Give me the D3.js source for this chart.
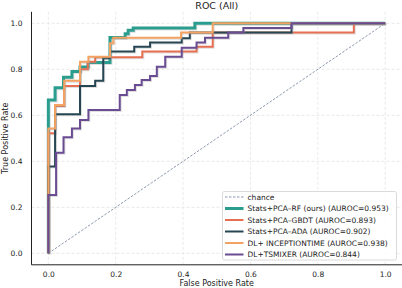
<!DOCTYPE html>
<html>
<head>
<meta charset="utf-8">
<script src="https://cdn.jsdelivr.net/npm/d3@7"></script>
<style>
  html, body { margin: 0; padding: 0; background: #fff; }
  svg { display: block; font-family: "DejaVu Sans", sans-serif; }
</style>
</head>
<body>
<svg id="chart" width="402" height="288"></svg>
<script>
// ROC points (fpr where tpr jumps, tpr after the jump)
var rfFpr   = [0, 0, 0.02, 0.045, 0.07, 0.094, 0.118, 0.183, 0.228, 0.237, 0.252, 0.435, 1.0];
var rfTpr   = [0, 0.667, 0.72, 0.765, 0.79, 0.81, 0.83, 0.938, 0.955, 0.97, 0.98, 1.0, 1.0];

var gbdtFpr = [0, 0, 0.02, 0.047, 0.094, 0.117, 0.139, 0.279, 0.44, 0.488, 0.907, 1.0];
var gbdtTpr = [0, 0.522, 0.64, 0.727, 0.80, 0.833, 0.852, 0.877, 0.898, 0.96, 1.0, 1.0];

var adaFpr  = [0, 0, 0.02, 0.094, 0.139, 0.163, 0.183, 0.255, 0.302, 0.396, 0.42, 0.722, 1.0];
var adaTpr  = [0, 0.377, 0.605, 0.727, 0.75, 0.848, 0.877, 0.898, 0.916, 0.935, 0.96, 1.0, 1.0];

var incFpr  = [0, 0, 0.02, 0.047, 0.094, 0.119, 0.183, 0.193, 0.394, 0.488, 1.0];
var incTpr  = [0, 0.543, 0.645, 0.75, 0.833, 0.855, 0.913, 0.937, 0.96, 1.0, 1.0];

var tsmFpr  = [0, 0, 0.023, 0.045, 0.07, 0.094, 0.119, 0.212, 0.233, 0.257, 0.277, 0.302, 0.322, 0.347, 0.396, 0.44, 0.465, 0.534, 0.579, 0.722, 1.0];
var tsmTpr  = [0, 0.253, 0.437, 0.505, 0.543, 0.58, 0.623, 0.688, 0.71, 0.732, 0.753, 0.771, 0.811, 0.855, 0.894, 0.917, 0.937, 0.96, 0.98, 1.0, 1.0];

var labels = [
  "Stats+PCA\u2013RF (ours) (AUROC=0.953)",
  "Stats+PCA\u2013GBDT (AUROC=0.893)",
  "Stats+PCA\u2013ADA (AUROC=0.902)",
  "DL+ INCEPTIONTIME (AUROC=0.938)",
  "DL+TSMIXER (AUROC=0.844)"
];
var ticks = [0, 0.2, 0.4, 0.6, 0.8, 1.0];

(function() {
  var colors = ["#2a9d8f", "#e76f51", "#264653", "#f4a261", "#6a4c93"];
  var widths = [3, 2, 2, 2, 2];

  var series = [
    {fpr: rfFpr, tpr: rfTpr},
    {fpr: gbdtFpr, tpr: gbdtTpr},
    {fpr: adaFpr, tpr: adaTpr},
    {fpr: incFpr, tpr: incTpr},
    {fpr: tsmFpr, tpr: tsmTpr}
  ];

  var svg = d3.select("#chart");
  var mLeft = 31.5, mRight = 402, mTop = 11.8, mBottom = 264.8;

  var x = d3.scaleLinear().domain([-0.05, 1.05]).range([mLeft, mRight]);
  var y = d3.scaleLinear().domain([-0.05, 1.05]).range([mBottom, mTop]);

  // grid
  var grid = svg.append("g");
  grid.selectAll("line.gx").data(ticks).enter().append("line")
    .attr("x1", function(d) { return x(d); }).attr("x2", function(d) { return x(d); })
    .attr("y1", mTop).attr("y2", mBottom)
    .style("stroke", "#e3e3e3").style("stroke-width", 0.8).style("stroke-dasharray", "3,2");
  grid.selectAll("line.gy").data(ticks).enter().append("line")
    .attr("y1", function(d) { return y(d); }).attr("y2", function(d) { return y(d); })
    .attr("x1", mLeft).attr("x2", mRight)
    .style("stroke", "#e3e3e3").style("stroke-width", 0.8).style("stroke-dasharray", "3,2");

  // chance
  svg.append("line")
    .attr("x1", x(0)).attr("y1", y(0)).attr("x2", x(1)).attr("y2", y(1))
    .style("stroke", "#8d99ae").style("stroke-width", 1).style("stroke-dasharray", "2.5,1.5");

  var line = d3.line()
    .x(function(d) { return x(d[0]); })
    .y(function(d) { return y(d[1]); })
    .curve(d3.curveStepAfter);

  series.forEach(function(s, i) {
    var pts = s.fpr.map(function(f, j) { return [f, s.tpr[j]]; });
    svg.append("path")
      .attr("d", line(pts))
      .attr("transform", "translate(1,1)")
      .style("fill", "none")
      .style("stroke", "#999")
      .style("stroke-opacity", 0.3)
      .style("stroke-width", widths[i]);
    svg.append("path")
      .attr("d", line(pts))
      .style("fill", "none")
      .style("stroke", colors[i])
      .style("stroke-width", widths[i]);
  });

  // axes
  var fmt = d3.format(".1f");
  var xAxis = svg.append("g")
    .attr("transform", "translate(0," + mBottom + ")")
    .call(d3.axisBottom(x).tickValues(ticks).tickFormat(fmt).tickSizeInner(0).tickSizeOuter(0).tickPadding(7));
  var yAxis = svg.append("g")
    .attr("transform", "translate(" + mLeft + ",0)")
    .call(d3.axisLeft(y).tickValues(ticks).tickFormat(fmt).tickSizeInner(0).tickSizeOuter(0).tickPadding(9));
  xAxis.select(".domain").attr("d", "M" + mLeft + ",0H" + mRight);
  yAxis.select(".domain").attr("d", "M0," + mTop + "V" + mBottom);
  [xAxis, yAxis].forEach(function(a) {
    a.select(".domain").style("stroke", "#222").style("stroke-width", 1);
    a.selectAll("text").style("font-family", "DejaVu Sans").style("font-size", "7.5px").style("fill", "#222");
  });

  // titles
  svg.append("text").attr("x", (mLeft + mRight) / 2).attr("y", 8.5)
    .attr("text-anchor", "middle").style("font-size", "9.5px").style("fill", "#222").text("ROC (All)");
  svg.append("text").attr("x", (mLeft + mRight) / 2).attr("y", 286)
    .attr("text-anchor", "middle").style("font-size", "8px").style("fill", "#222").text("False Positive Rate");
  svg.append("text").attr("transform", "translate(8," + ((mTop + mBottom) / 2) + ") rotate(-90)")
    .attr("text-anchor", "middle").style("font-size", "8px").style("fill", "#222").text("True Positive Rate");

  // legend
  var lg = svg.append("g");
  lg.append("rect").attr("x", 222.5).attr("y", 191.5).attr("width", 174).attr("height", 68.5)
    .attr("rx", 2).style("fill", "#fff").style("fill-opacity", 0.85)
    .style("stroke", "#d0d0d0").style("stroke-width", 0.8);
  var rowY = function(i) { return 197 + i * 11.5; };
  lg.append("line").attr("x1", 225).attr("x2", 243.5).attr("y1", rowY(0)).attr("y2", rowY(0))
    .style("stroke", "#8d99ae").style("stroke-width", 1).style("stroke-dasharray", "2.5,1.5");
  lg.append("text").attr("x", 247.5).attr("y", rowY(0)).attr("dy", "0.35em")
    .style("font-size", "7.5px").style("fill", "#222").text("chance");
  labels.forEach(function(t, i) {
    lg.append("line").attr("x1", 225).attr("x2", 243.5).attr("y1", rowY(i + 1)).attr("y2", rowY(i + 1))
      .style("stroke", colors[i]).style("stroke-width", widths[i]);
    lg.append("text").attr("x", 247.5).attr("y", rowY(i + 1)).attr("dy", "0.35em")
      .style("font-size", "7.5px").style("fill", "#222").text(t);
  });
})();
</script>
</body>
</html>
